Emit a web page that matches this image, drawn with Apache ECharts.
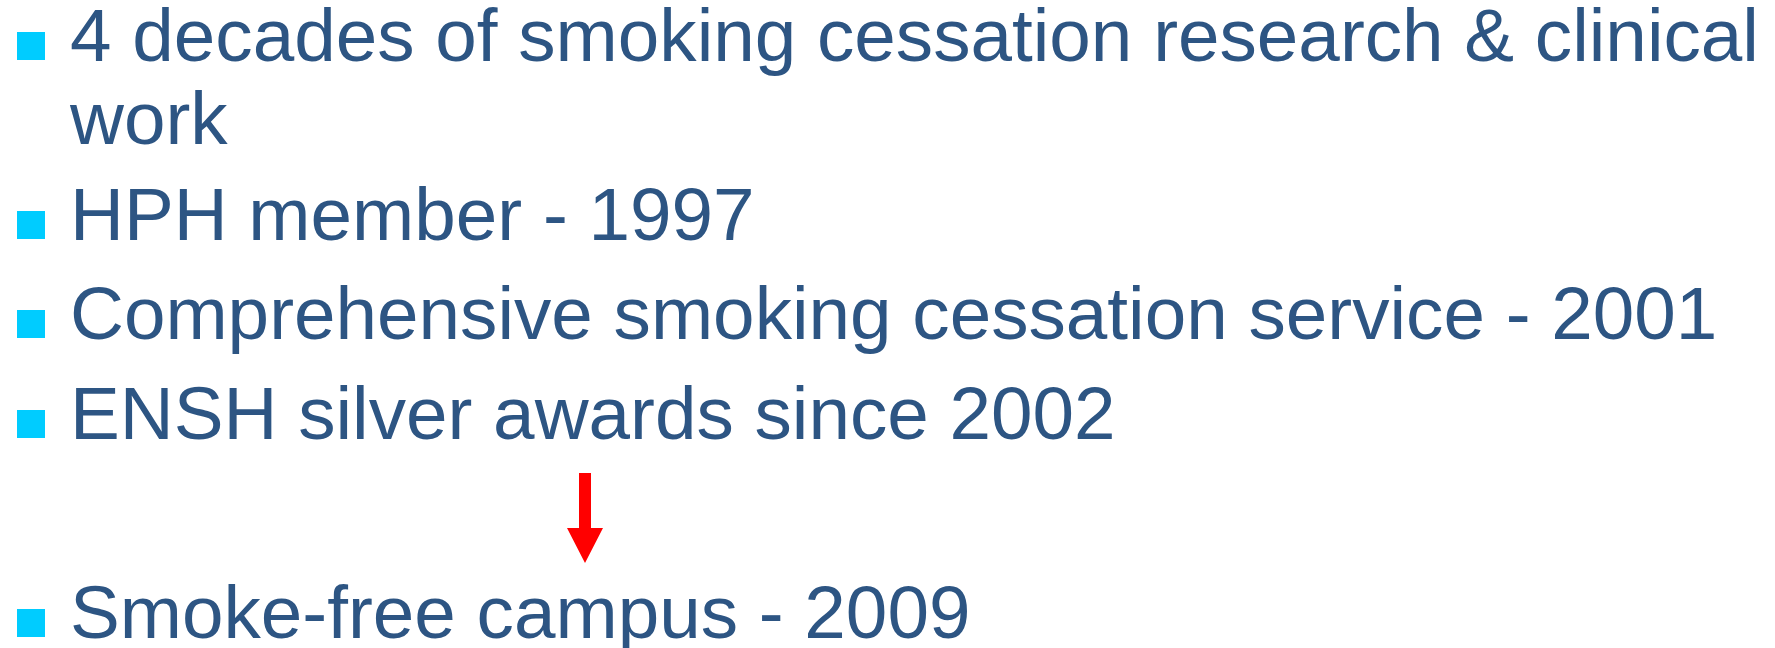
<!DOCTYPE html>
<html>
<head>
<meta charset="utf-8">
<script src="https://cdn.jsdelivr.net/npm/echarts@6/dist/echarts.min.js"></script>
<style>
html,body{margin:0;padding:0;background:#fff;}
#main{width:1775px;height:648px;}
</style>
</head>
<body>
<div id="main"></div>
<script>
// Bullet items (each item may wrap to several lines)
var bulletItems = [
  ["4 decades of smoking cessation research & clinical", "work"],
  ["HPH member - 1997"],
  ["Comprehensive smoking cessation service - 2001"],
  ["ENSH silver awards since 2002"],
  ["Smoke-free campus - 2009"]
];
// Baseline of first line of each item (px)
var itemBaselines = [64, 243, 342, 442, 641];

var FONT = 74.67;
var LINE_GAP = 83;
var TEXT_X = 70;
var TEXT_COLOR = '#2D5583';
var BULLET_COLOR = '#00CCFF';

var chart = echarts.init(document.getElementById('main'), null, {renderer: 'canvas'});
var elements = [];
bulletItems.forEach(function (lines, i) {
  var b = itemBaselines[i];
  elements.push({
    type: 'rect',
    shape: {x: 17, y: b - 32, width: 28, height: 28},
    style: {fill: BULLET_COLOR}
  });
  lines.forEach(function (line, j) {
    var base = b + j * LINE_GAP;
    elements.push({
      type: 'text',
      x: TEXT_X,
      y: base - FONT * 0.319,
      style: {
        text: line,
        font: FONT + 'px "Liberation Sans", Arial, sans-serif',
        fill: TEXT_COLOR,
        textAlign: 'left',
        textVerticalAlign: 'middle'
      }
    });
  });
});
// Red down arrow
elements.push({
  type: 'polygon',
  shape: {points: [[579, 473], [591, 473], [591, 528], [603, 528], [585, 563], [567, 528], [579, 528]]},
  style: {fill: '#FF0000'}
});

chart.setOption({
  animation: false,
  backgroundColor: '#ffffff',
  graphic: {elements: elements}
});
</script>
</body>
</html>
